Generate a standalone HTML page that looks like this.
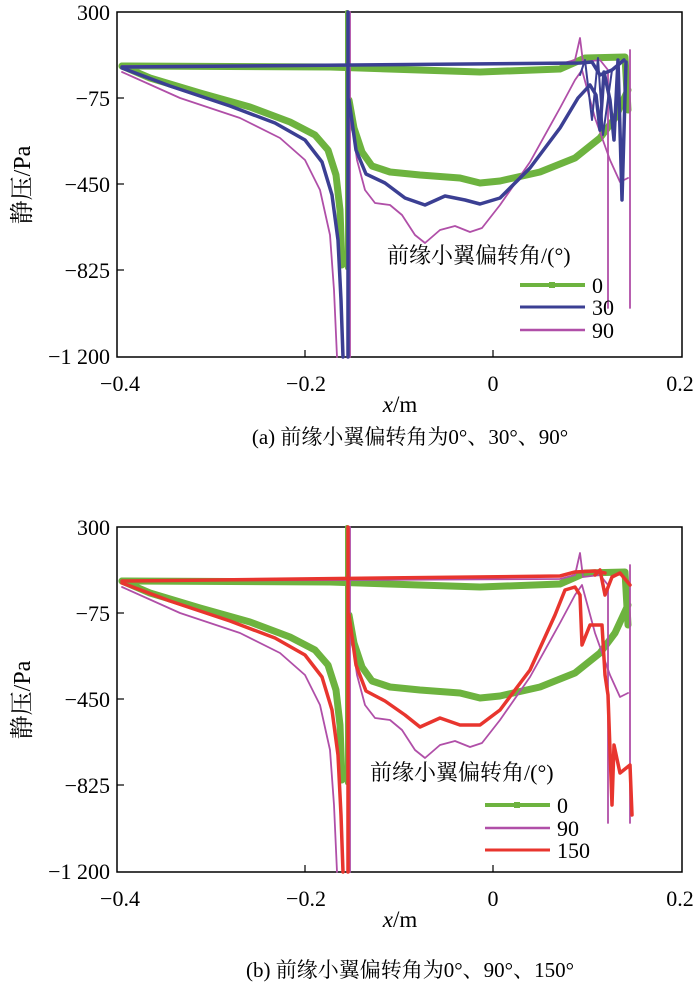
<!DOCTYPE html>
<html><head><meta charset="utf-8"><style>
body{margin:0;background:#fff;}
svg text{font-family:"Liberation Serif","Noto Serif CJK SC",serif;fill:#000;}
path{stroke-linejoin:round;stroke-linecap:round;}
</style></head><body>
<svg width="700" height="990" viewBox="0 0 700 990" xmlns="http://www.w3.org/2000/svg">
<defs>
<g id="ax">
<rect x="117" y="12" width="565" height="345" fill="none" stroke="#000" stroke-width="1.5"/>
<g stroke="#000" stroke-width="1.2">
<line x1="117" y1="98" x2="124" y2="98"/><line x1="117" y1="184" x2="124" y2="184"/><line x1="117" y1="270" x2="124" y2="270"/>
<line x1="305" y1="357" x2="305" y2="350"/><line x1="493" y1="357" x2="493" y2="350"/>
</g>
<g font-size="22" text-anchor="end">
<text x="110" y="20">300</text><text x="110" y="106">−75</text><text x="110" y="192">−450</text><text x="110" y="278">−825</text><text x="110" y="364">−1 200</text>
</g>
<g font-size="22" text-anchor="middle">
<text x="120" y="391">−0.4</text><text x="306" y="391">−0.2</text><text x="493" y="391">0</text><text x="680" y="391">0.2</text>
</g>
<text x="400" y="412" font-size="23" text-anchor="middle"><tspan font-style="italic">x</tspan>/m</text>
<text transform="translate(30,185) rotate(-90)" font-size="24" text-anchor="middle">静压/Pa</text>
</g>
<g id="green">
<path d="M122,66 L330,67 L480,72 L560,69 L585,58 L625,57 L628,110" fill="none" stroke="#6db33f" stroke-width="7"/>
<path d="M122,66 L150,78 L200,93 L250,107 L290,122 L315,135 L328,150 L336,175 L340,210 L342,265" fill="none" stroke="#6db33f" stroke-width="7"/>
<path d="M347,12 L347,268" stroke="#6db33f" stroke-width="4"/>
<path d="M349,100 L354,128 L362,152 L372,166 L390,172 L420,175 L460,178 L480,183 L500,181 L540,172 L575,158 L600,138 L615,118 L628,90" fill="none" stroke="#6db33f" stroke-width="7"/>
</g>
<g id="purple">
<path d="M122,66 L560,64 L575,60 L580,38 L583,62 L600,60 L608,70 L608,308 M630,50 L630,308" fill="none" stroke="#b04fa8" stroke-width="1.8"/>
<path d="M122,72 L180,98 L240,118 L280,138 L305,160 L320,190 L330,235 L334,290 L337,357" fill="none" stroke="#b04fa8" stroke-width="1.8"/>
<path d="M350,12 L350,357" stroke="#b04fa8" stroke-width="1.8"/>
<path d="M350,110 L357,160 L365,190 L375,203 L390,205 L402,215 L415,235 L425,243 L440,230 L455,226 L470,232 L482,228 L500,205 L530,162 L560,108 L575,80 L582,70 L595,118 L610,160 L620,182 L628,178" fill="none" stroke="#b04fa8" stroke-width="1.8"/>
</g>
</defs>

<!-- Panel a -->
<use href="#ax"/>
<use href="#green"/>
<use href="#purple"/>
<g fill="none" stroke="#3b3f93" stroke-width="3.5">
<path d="M122,67 L580,63 L592,62 L600,75 L612,70 L624,60"/>
<path d="M122,68 L170,86 L230,106 L275,123 L305,140 L322,162 L332,195 L338,240 L341,300 L343,357"/>
<path d="M348,12 L348,357"/>
<path d="M349,100 L356,150 L366,174 L385,183 L405,198 L425,205 L445,196 L465,200 L480,204 L500,198 L530,168 L560,128 L578,98 L590,85 L596,95 L600,130 L604,72 L610,100 L614,140 L618,60 L622,200 L626,62"/>
</g>
<path d="M580,75 L585,60 L592,120 L598,58 L603,135 L612,70" fill="none" stroke="#3b3f93" stroke-width="2"/>
<text x="387" y="263" font-size="22">前缘小翼偏转角/(°)</text>
<line x1="520" y1="285" x2="585" y2="285" stroke="#6db33f" stroke-width="4"/>
<rect x="549" y="282" width="6" height="6" fill="#6db33f"/>
<line x1="520" y1="307" x2="585" y2="307" stroke="#3b3f93" stroke-width="3"/>
<line x1="520" y1="330" x2="585" y2="330" stroke="#b04fa8" stroke-width="2.5"/>
<text x="592" y="293" font-size="22">0</text>
<text x="592" y="315" font-size="22">30</text>
<text x="592" y="338" font-size="22">90</text>
<text x="410" y="444" font-size="21" text-anchor="middle">(a) 前缘小翼偏转角为0°、30°、90°</text>

<!-- Panel b -->
<g transform="translate(0,515)">
<use href="#ax"/>
<use href="#green"/>
<use href="#purple"/>
<g fill="none" stroke="#e8352e" stroke-width="3.5">
<path d="M122,66 L560,61 L575,57 L595,56 L605,58"/>
<path d="M122,68 L170,86 L230,106 L275,123 L305,140 L322,162 L332,195 L338,240 L341,300 L343,357"/>
<path d="M348,12 L348,357"/>
<path d="M349,100 L356,150 L366,176 L385,186 L405,200 L420,212 L440,203 L460,210 L480,210 L500,195 L530,155 L555,100 L565,75 L575,72 L580,80 L582,130 L590,110 L602,110 L605,160 L608,180 L612,290 L614,230 L620,258 L630,250 L632,300"/>
<path d="M595,60 L600,55 L605,80 L612,62 L620,58 L630,70"/>
</g>
</g>
<text x="370" y="780" font-size="22">前缘小翼偏转角/(°)</text>
<line x1="485" y1="805" x2="550" y2="805" stroke="#6db33f" stroke-width="4"/>
<rect x="514" y="802" width="6" height="6" fill="#6db33f"/>
<line x1="485" y1="828" x2="550" y2="828" stroke="#b04fa8" stroke-width="2.5"/>
<line x1="485" y1="850" x2="550" y2="850" stroke="#e8352e" stroke-width="3"/>
<text x="557" y="813" font-size="22">0</text>
<text x="557" y="836" font-size="22">90</text>
<text x="557" y="858" font-size="22">150</text>
<text x="410" y="977" font-size="21" text-anchor="middle">(b) 前缘小翼偏转角为0°、90°、150°</text>
</svg>
</body></html>
